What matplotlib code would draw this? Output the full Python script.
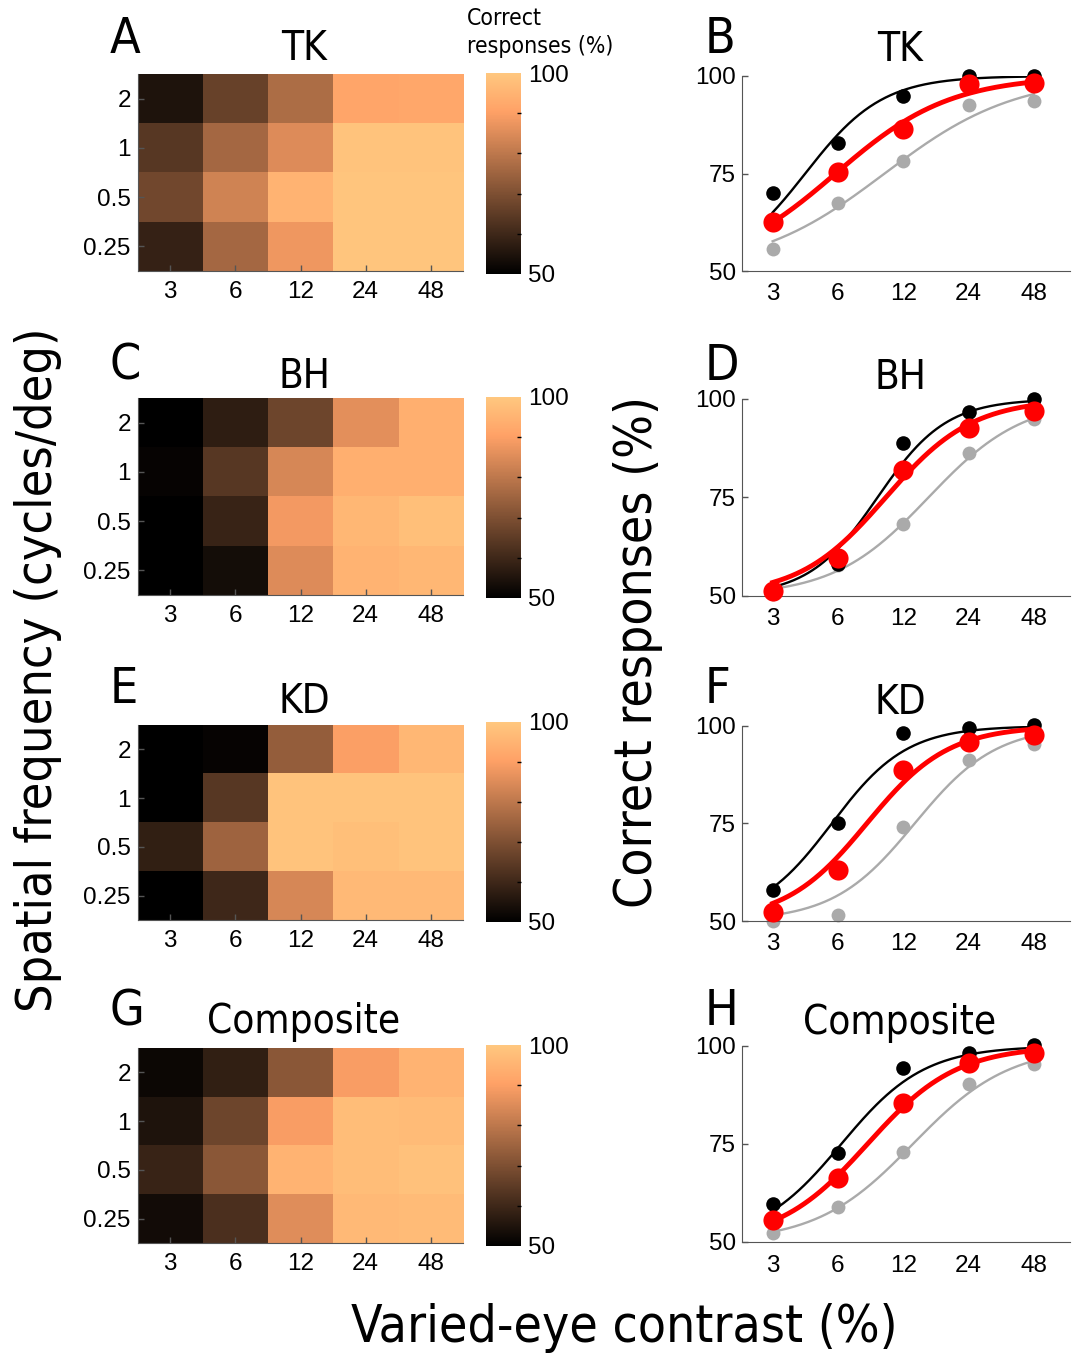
import numpy as np
import matplotlib
matplotlib.use("Agg")
import matplotlib.pyplot as plt
from matplotlib import font_manager as fm

W, H = 1074, 1353

contrasts = [3, 6, 12, 24, 48]
sf_labels = ["2", "1", "0.5", "0.25"]
subjects = ["TK", "BH", "KD", "Composite"]
left_letters = ["A", "C", "E", "G"]
right_letters = ["B", "D", "F", "H"]

# correct responses (%), rows = spatial frequency 2, 1, 0.5, 0.25; cols = contrast
tk_grid = [[55, 66.5, 77.5, 91.5, 92],
           [64, 76, 85, 99, 99],
           [68, 83, 95, 99.5, 99.5],
           [58.5, 76, 88, 99.5, 99.5]]
bh_grid = [[50, 57.5, 67.5, 86, 94],
           [51, 64, 84, 94, 94],
           [50, 59, 88.5, 96, 98],
           [50, 53.5, 85, 95, 96]]
kd_grid = [[50, 51, 73.5, 90, 96],
           [50, 64, 99, 99, 99],
           [58, 75, 99, 98, 99],
           [50, 60, 84, 96.5, 96.5]]
comp_grid = [[52, 58, 72, 89.5, 95],
             [55, 67.5, 89.5, 97.5, 97],
             [59, 72, 95, 97.5, 98.5],
             [53, 62, 85.5, 96.5, 97]]
grids = [tk_grid, bh_grid, kd_grid, comp_grid]

# psychometric data points, one row per subject (TK, BH, KD, Composite)
black_pts = [[70, 82.8, 95, 100, 100],
             [51, 58, 88.8, 96.7, 100],
             [58, 75, 98.2, 99.5, 100.2],
             [59.7, 72.6, 94.5, 98.3, 100.3]]
red_pts = [[62.6, 75.4, 86.3, 97.9, 98.2],
           [51.2, 59.7, 82, 92.6, 97],
           [52.3, 63, 88.8, 95.9, 97.8],
           [55.7, 66.3, 85.4, 95.6, 98.1]]
gray_pts = [[55.7, 67.4, 78.2, 92.5, 93.6],
            [50.5, 57.8, 68.4, 86.2, 95],
            [50, 51.5, 74.1, 91.2, 95.5],
            [52.3, 59, 73, 90.4, 95.5]]

# fitted logistic curves: threshold (contrast %) and slope (log2 units)
black_thr = [4.24, 9.13, 5.62, 6.22]
black_slope = [0.59, 0.526, 0.573, 0.634]
red_thr = [5.86, 9.96, 8.15, 8.21]
red_slope = [0.878, 0.664, 0.624, 0.684]
gray_thr = [9.85, 15.68, 13.55, 13.3]
gray_slope = [1.0, 0.725, 0.623, 0.739]

# label font: condensed DejaVu if present, else regular
_cond = any(f.name == "DejaVu Sans" and f.stretch == "condensed" for f in fm.fontManager.ttflist)
LABEL_FONT = dict(family="DejaVu Sans", stretch="condensed" if _cond else "normal")

plt.rcParams["font.family"] = ["Liberation Sans", "DejaVu Sans"]
SPINE = "#555555"
TICK_FS = 17.5


def rect(x0, y0, x1, y1):
    return [x0 / W, 1 - y1 / H, (x1 - x0) / W, (y1 - y0) / H]


def logistic(c, thr, slope):
    return 50 + 50 / (1 + np.exp(-(np.log2(c) - np.log2(thr)) / slope))


fig = plt.figure(figsize=(W / 100, H / 100), dpi=100)

hm_top = [74, 398, 725, 1048]
hm_bot = [271, 595, 920, 1243]
ln_top = [76, 399, 726, 1046]
ln_bot = [271, 596, 921, 1242]
cb_top = [73, 397, 722, 1045]
cb_bot = [274, 598, 922, 1246]
letter_base = [53, 380, 703, 1025]
title_base = [60, 388, 713, 1033]

fs_letter = 36 if _cond else 32
fs_title = 29 if _cond else 26

for i in range(4):
    # ---- heatmap
    ax = fig.add_axes(rect(137.7, hm_top[i], 463.3, hm_bot[i]))
    im = ax.imshow(np.array(grids[i]), cmap="copper", vmin=50, vmax=100,
                   aspect="auto", interpolation="nearest")
    ax.set_xticks(range(len(contrasts)))
    ax.set_xticklabels([str(c) for c in contrasts])
    ax.set_yticks(range(len(sf_labels)))
    ax.set_yticklabels(sf_labels)
    ax.tick_params(direction="in", length=4, width=1, color=SPINE, labelsize=TICK_FS)
    ax.tick_params(axis="x", pad=7)
    ax.tick_params(axis="y", pad=5)
    for s in ["top", "right"]:
        ax.spines[s].set_visible(False)
    for s in ["left", "bottom"]:
        ax.spines[s].set_color(SPINE)

    # ---- colorbar
    cax = fig.add_axes(rect(486, cb_top[i], 521, cb_bot[i]))
    cb = fig.colorbar(im, cax=cax)
    cb.outline.set_visible(False)
    cb.set_ticks([50, 100])
    cb.ax.set_yticks([60, 70, 80, 90], minor=True)
    cb.ax.tick_params(which="major", length=0, labelsize=TICK_FS, pad=5)
    cb.ax.tick_params(which="minor", direction="in", length=3, width=1, color="black")

    # ---- psychometric functions
    lx = fig.add_axes(rect(741.7, ln_top[i], 1070, ln_bot[i]))
    cc = np.geomspace(3, 48, 200)
    lx.plot(cc, logistic(cc, gray_thr[i], gray_slope[i]), color="#aaaaaa", lw=1.7, zorder=2)
    lx.plot(contrasts, gray_pts[i], "o", color="#aaaaaa", ms=10, mec="none", zorder=2, clip_on=False)
    lx.plot(cc, logistic(cc, black_thr[i], black_slope[i]), color="black", lw=1.7, zorder=3)
    lx.plot(contrasts, black_pts[i], "o", color="black", ms=10.5, mec="none", zorder=3, clip_on=False)
    lx.plot(cc, logistic(cc, red_thr[i], red_slope[i]), color="#ff0000", lw=3.5, zorder=4)
    lx.plot(contrasts, red_pts[i], "o", color="#ff0000", ms=14.5, mec="none", zorder=4, clip_on=False)
    lx.set_xscale("log")
    lx.set_xlim(2.16, 70.5)
    lx.set_ylim(50, 100)
    lx.set_xticks(contrasts)
    lx.set_xticklabels([str(c) for c in contrasts])
    lx.xaxis.set_minor_locator(plt.NullLocator())
    lx.set_yticks([50, 75, 100])
    lx.tick_params(direction="in", length=4, width=1, color=SPINE, labelsize=TICK_FS)
    lx.tick_params(axis="x", length=0, pad=9)
    lx.tick_params(axis="y", pad=4)
    for s in ["top", "right"]:
        lx.spines[s].set_visible(False)
    for s in ["left", "bottom"]:
        lx.spines[s].set_color(SPINE)

    # ---- panel letters and titles
    fig.text(110 / W, 1 - letter_base[i] / H, left_letters[i], fontsize=fs_letter,
             va="baseline", ha="left", **LABEL_FONT)
    fig.text(705 / W, 1 - letter_base[i] / H, right_letters[i], fontsize=fs_letter,
             va="baseline", ha="left", **LABEL_FONT)
    fig.text(304 / W, 1 - title_base[i] / H, subjects[i], fontsize=fs_title,
             va="baseline", ha="center", **LABEL_FONT)
    fig.text(900 / W, 1 - (title_base[i] + 1) / H, subjects[i], fontsize=fs_title,
             va="baseline", ha="center", **LABEL_FONT)

fs_big = 37 if _cond else 32
fig.text(38 / W, 1 - 670 / H, "Spatial frequency (cycles/deg)", rotation=90,
         fontsize=fs_big - 1, ha="center", va="center", **LABEL_FONT)
fig.text(638 / W, 1 - 652 / H, "Correct responses (%)", rotation=90,
         fontsize=fs_big, ha="center", va="center", **LABEL_FONT)
fig.text(624 / W, 1 - 1341.7 / H, "Varied-eye contrast (%)",
         fontsize=fs_big, ha="center", va="baseline", **LABEL_FONT)
fig.text(467 / W, 1 - 7 / H, "Correct\nresponses (%)", fontsize=16.5 if _cond else 14,
         ha="left", va="top", linespacing=1.3, **LABEL_FONT)

fig.savefig("out.png", dpi=100, facecolor="white")
